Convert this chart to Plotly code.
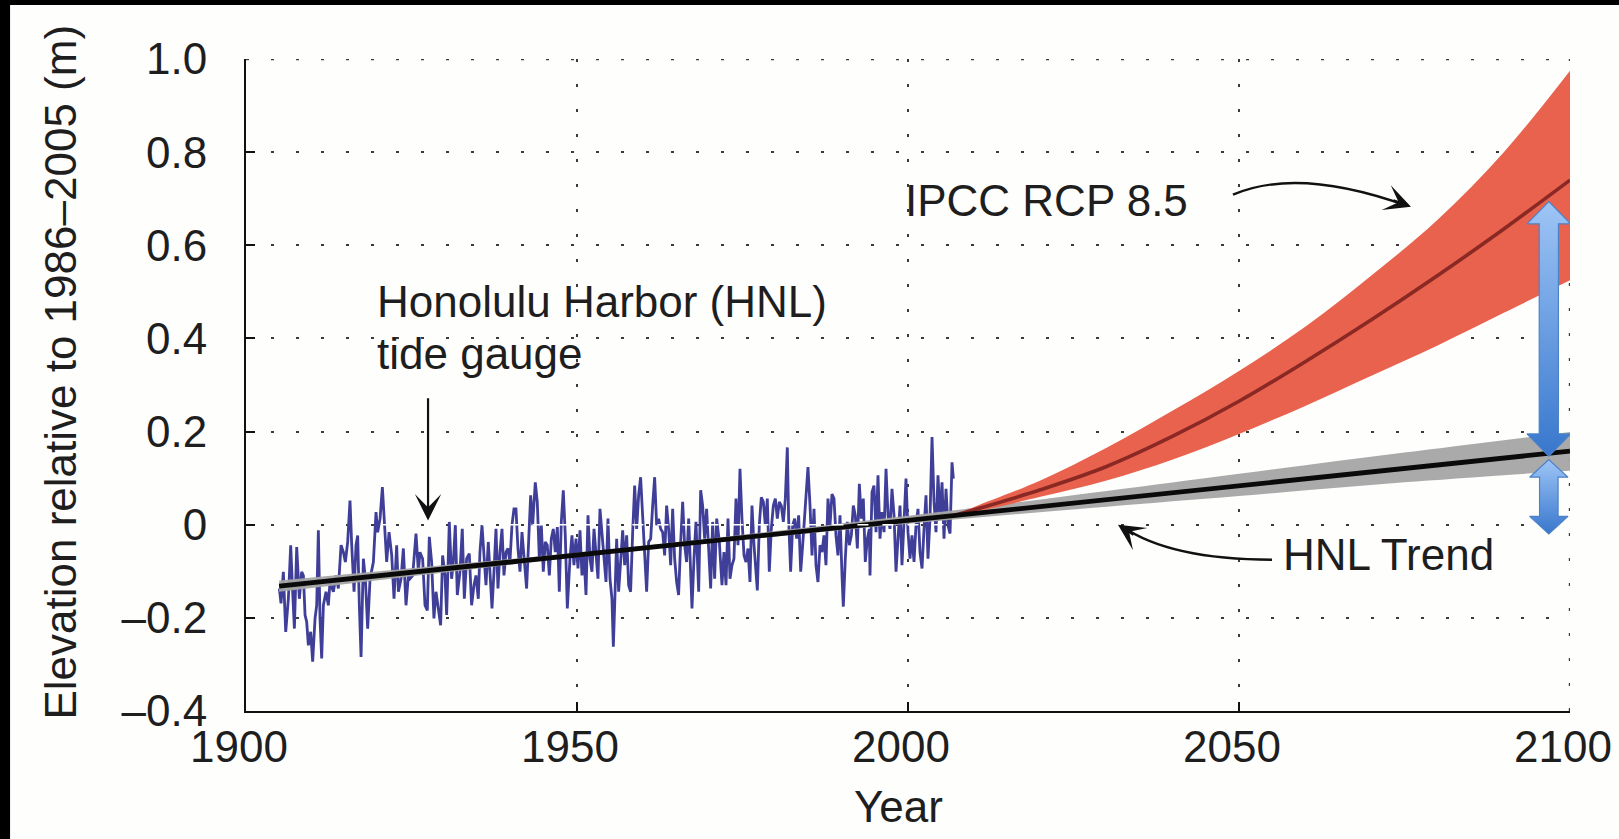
import plotly.graph_objects as go

# ---------------- data ----------------
gauge_year = [
 1905.04,1905.29,1905.64,1906.00,1906.40,1906.75,1907.05,1907.31,1907.66,1908.06,1908.41,1908.67,1908.92,1909.17,1909.42,1909.77,
 1910.07,1910.43,1910.68,1910.93,1911.18,1911.43,1911.69,1912.09,1912.44,1912.69,1913.20,1913.60,1913.95,1914.36,1914.71,1915.01,
 1915.36,1915.71,1915.97,1916.32,1916.62,1916.87,1917.12,1917.38,1917.73,1918.03,1918.38,1918.74,1919.24,1919.64,1919.89,1920.25,
 1920.60,1920.90,1921.25,1921.61,1922.01,1922.36,1922.76,1923.02,1923.42,1923.77,1924.17,1924.53,1924.78,1925.18,1925.68,1926.04,
 1926.28,1926.68,1927.04,1927.39,1927.69,1928.04,1928.39,1928.70,1929.05,1929.40,1929.70,1930.06,1930.31,1930.71,1931.06,1931.32,
 1931.62,1931.92,1932.32,1932.67,1932.98,1933.33,1933.73,1934.08,1934.44,1934.74,1935.09,1935.34,1935.65,1935.95,1936.25,1936.60,
 1936.85,1937.16,1937.46,1937.76,1938.06,1938.36,1938.67,1938.97,1939.27,1939.57,1939.87,1940.18,1940.48,1940.78,1941.08,1941.39,
 1941.69,1942.09,1942.39,1942.69,1943.00,1943.30,1943.70,1944.00,1944.31,1944.61,1944.91,1945.21,1945.51,1945.82,1946.12,1946.42,
 1946.72,1947.03,1947.33,1947.63,1947.93,1948.23,1948.54,1948.94,
 1949.24,1949.54,1949.85,1950.15,1950.45,1950.75,1951.05,1951.36,1951.66,1951.96,1952.26,1952.57,1952.87,1953.17,1953.47,1953.77,
 1954.08,1954.38,1954.68,1954.98,1955.28,1955.49,1955.69,1955.99,1956.29,1956.59,1956.90,1957.20,1957.50,1957.80,1958.10,1958.41,
 1958.71,1959.01,1959.31,1959.61,1959.92,1960.22,1960.52,1960.82,1961.13,1961.43,1961.73,1962.03,1962.33,1962.64,1962.94,1963.24,
 1963.54,1963.84,1964.15,1964.45,1964.75,1965.05,1965.35,1965.66,1965.96,1966.26,1966.56,1966.87,1967.17,1967.37,1967.67,1967.97,
 1968.38,1968.68,1968.98,1969.28,1969.58,1969.89,1970.19,1970.49,1970.79,1971.10,1971.50,
 1971.90,1972.20,1972.51,1972.81,1973.11,1973.41,1973.71,1974.02,1974.32,1974.62,1974.92,1975.23,1975.53,1975.83,1976.13,1976.43,
 1976.74,1977.04,1977.24,1977.54,1977.84,1978.15,1978.45,1978.75,1979.05,1979.35,1979.66,1979.96,1980.26,1980.56,1980.86,1981.17,
 1981.47,1981.77,1981.97,1982.27,1982.58,1982.88,1983.18,1983.48,1983.79,1984.09,1984.39,1984.69,1984.89,1985.20,1985.50,1985.80,
 1986.10,1986.40,1986.71,1987.01,1987.31,1987.61,1987.91,1988.22,1988.52,1988.82,1989.12,1989.42,1989.73,1990.03,1990.23,1990.53,
 1990.83,1991.14,1991.44,1991.74,1992.04,1992.35,1992.65,1992.95,1993.25,1993.55,1993.86,1994.16,
 1994.26,1994.56,1994.86,1995.17,1995.47,1995.77,1996.07,1996.38,1996.68,1996.98,1997.28,1997.58,1997.89,1998.19,1998.49,1998.79,
 1999.09,1999.40,1999.70,2000.00,2000.30,2000.60,2000.91,2001.21,2001.51,2001.81,2002.12,2002.42,2002.72,2003.02,2003.32,2003.63,
 2003.93,2004.23,2004.53,2004.83,2005.14,2005.44,2005.74,2006.04,2006.35,2006.65,2006.85,
]
gauge_elev = [
 -0.137,-0.169,-0.101,-0.230,-0.159,-0.044,-0.144,-0.223,-0.048,-0.159,-0.101,-0.109,-0.194,-0.209,-0.259,-0.230,
 -0.294,-0.201,-0.173,-0.012,-0.201,-0.287,-0.173,-0.144,-0.173,-0.123,-0.144,-0.109,-0.137,-0.044,-0.059,-0.080,
 -0.037,0.052,-0.044,-0.144,-0.044,-0.023,-0.173,-0.284,-0.073,-0.116,-0.223,-0.116,-0.080,0.027,-0.016,0.013,
 0.081,-0.001,-0.080,-0.016,-0.066,-0.159,-0.044,-0.144,-0.116,-0.051,-0.173,-0.109,-0.116,-0.109,-0.019,-0.101,
 -0.059,-0.073,-0.173,-0.184,-0.026,-0.080,-0.201,-0.144,-0.187,-0.216,-0.066,-0.109,-0.194,0.006,-0.116,-0.080,
 -0.001,-0.151,-0.101,-0.009,-0.159,-0.073,-0.062,-0.173,-0.130,-0.109,-0.159,-0.059,-0.001,-0.080,-0.130,-0.037,
 -0.101,-0.180,-0.101,-0.009,-0.137,-0.059,-0.009,-0.109,-0.059,-0.051,-0.080,-0.001,0.034,0.034,-0.051,-0.101,
 -0.016,-0.087,-0.137,-0.037,0.063,-0.001,0.091,0.049,-0.073,-0.001,-0.101,-0.037,-0.044,-0.109,-0.030,-0.009,
 -0.059,-0.005,-0.144,0.006,0.074,-0.023,-0.180,-0.073,
 -0.023,-0.087,-0.030,-0.094,-0.012,-0.109,-0.066,-0.151,0.020,-0.073,-0.101,-0.009,-0.059,-0.116,0.034,-0.016,
 -0.059,-0.123,0.013,-0.116,-0.159,-0.262,-0.173,-0.030,-0.144,-0.073,-0.012,-0.087,-0.023,-0.130,-0.144,-0.016,
 0.084,-0.009,0.063,0.102,0.013,-0.073,-0.144,-0.037,-0.030,0.041,0.102,-0.001,0.013,-0.009,-0.016,-0.066,
 0.041,-0.009,-0.087,0.034,-0.073,-0.123,-0.151,-0.037,0.049,-0.044,-0.080,0.013,-0.094,-0.180,-0.073,0.006,
 -0.144,0.074,0.041,-0.030,0.034,-0.044,-0.137,0.006,-0.116,0.013,-0.037,
 -0.130,-0.059,-0.130,0.013,-0.116,-0.087,-0.073,0.056,-0.044,0.120,0.013,-0.066,-0.080,-0.051,-0.123,0.041,
 -0.044,-0.094,-0.141,-0.001,0.059,0.049,-0.001,0.056,-0.101,-0.009,0.041,0.056,0.013,0.049,0.041,0.006,
 0.056,0.166,0.013,-0.101,-0.001,0.013,-0.030,0.020,-0.101,-0.044,0.013,0.084,0.124,0.041,-0.066,0.034,
 -0.087,-0.123,-0.044,-0.059,-0.023,-0.087,0.056,-0.001,0.066,0.056,-0.023,-0.066,0.020,-0.109,-0.176,-0.073,
 0.006,-0.044,-0.023,0.041,0.020,-0.051,0.088,0.013,0.056,-0.080,-0.030,-0.009,
 -0.109,0.070,0.084,-0.016,0.106,-0.030,0.027,-0.016,0.120,0.020,-0.009,0.077,0.020,-0.101,-0.030,0.041,
 -0.087,0.013,0.099,-0.016,-0.073,-0.023,-0.080,-0.001,0.034,-0.059,-0.094,-0.009,0.063,-0.073,0.013,0.188,
 0.049,-0.016,0.106,0.013,0.091,-0.030,0.077,-0.001,-0.019,0.134,0.099,
]

# HNL linear trend (historical fit extended to 2100) and its uncertainty band
trend_year = [1905, 2100]
trend_elev = [-0.132, 0.158]
band_year = [1905, 1930, 1955, 1980, 2007, 2030, 2050, 2075, 2100]
band_upper = [-0.120, -0.0865, -0.053, -0.0135, 0.031, 0.0725, 0.1095, 0.155, 0.199]
band_lower = [-0.144, -0.1025, -0.061, -0.0255, 0.011, 0.0385, 0.0615, 0.091, 0.116]

# IPCC RCP 8.5 projection
rcp_year = [2007, 2010, 2020, 2030, 2040, 2050, 2060, 2070, 2080, 2090, 2100]
rcp_median = [0.020, 0.032, 0.075, 0.125, 0.190, 0.265, 0.350, 0.440, 0.535, 0.635, 0.740]
rcp_upper = [0.020, 0.038, 0.095, 0.165, 0.245, 0.330, 0.425, 0.535, 0.655, 0.800, 0.975]
rcp_lower = [0.020, 0.027, 0.060, 0.095, 0.140, 0.195, 0.255, 0.320, 0.385, 0.455, 0.525]

y_ticks = [-0.4, -0.2, 0, 0.2, 0.4, 0.6, 0.8, 1.0]
y_ticktext = ["\u20130.4", "\u20130.2", "0", "0.2", "0.4", "0.6", "0.8", "1.0"]
x_ticks = [1900, 1950, 2000, 2050, 2100]
x_range = [1900, 2100]
y_range = [-0.4, 1.0]

# double-arrow markers at the right edge: (top, bottom) at arrow_year
arrow_year = 2096.8
big_arrow = (0.694, 0.147)
small_arrow = (0.140, -0.020)

FONT = "Liberation Sans, Arial, Helvetica, sans-serif"
TXT = "#1e1e1e"
FS = 44
GRID_COLOR = "#3a3a3a"
GRID_DASH = "3px,22px"
GRID_W = 2.4

fig = go.Figure()

# tide gauge record
fig.add_trace(go.Scatter(x=gauge_year, y=gauge_elev, mode="lines",
                         line=dict(color="#3f3e98", width=2.8), hoverinfo="skip"))

# gray trend band
fig.add_trace(go.Scatter(x=band_year, y=band_lower, mode="lines", line=dict(width=0, shape="spline"),
                         hoverinfo="skip"))
fig.add_trace(go.Scatter(x=band_year, y=band_upper, mode="lines", line=dict(width=0, shape="spline"),
                         fill="tonexty", fillcolor="rgba(165,165,165,0.95)", hoverinfo="skip"))

# red RCP band
fig.add_trace(go.Scatter(x=rcp_year, y=rcp_lower, mode="lines", line=dict(width=0, shape="spline"),
                         hoverinfo="skip"))
fig.add_trace(go.Scatter(x=rcp_year, y=rcp_upper, mode="lines", line=dict(width=0, shape="spline"),
                         fill="tonexty", fillcolor="#e9624e", hoverinfo="skip"))
fig.add_trace(go.Scatter(x=rcp_year, y=rcp_median, mode="lines",
                         line=dict(color="#8a2824", width=3.6, shape="spline"), hoverinfo="skip"))

# black trend line
fig.add_trace(go.Scatter(x=trend_year, y=trend_elev, mode="lines",
                         line=dict(color="#0a0a0a", width=4.8), hoverinfo="skip"))


def double_arrow(xc, top, bot, head_hw, shaft_hw, head_len):
    xs = [xc - head_hw, xc, xc + head_hw, xc + shaft_hw, xc + shaft_hw, xc + head_hw, xc,
          xc - head_hw, xc - shaft_hw, xc - shaft_hw, xc - head_hw]
    ys = [top - head_len, top, top - head_len, top - head_len, bot + head_len, bot + head_len, bot,
          bot + head_len, bot + head_len, top - head_len, top - head_len]
    return xs, ys


for (top, bot), hhw, shw, hl in [(big_arrow, 3.3, 1.45, 0.048), (small_arrow, 2.9, 1.4, 0.038)]:
    ax_, ay_ = double_arrow(arrow_year, top, bot, hhw, shw, hl)
    fig.add_trace(go.Scatter(
        x=ax_, y=ay_, mode="lines", fill="toself",
        line=dict(color="#4d82c6", width=1.2),
        fillgradient=dict(type="vertical", colorscale=[[0, "#3877cd"], [1, "#9ec5f6"]]),
        hoverinfo="skip"))

shapes = [
    # white page inside the black frame
    dict(type="rect", xref="paper", yref="paper", x0=-0.1782, x1=1.06, y0=-0.25, y1=1.0828,
         fillcolor="#fefefd", line=dict(width=0), layer="below"),
    # dotted gridlines at the far edges (plotly drops gridlines on the range ends)
    dict(type="line", xref="x", yref="y", x0=x_range[1], x1=x_range[1], y0=y_range[0], y1=y_range[1],
         line=dict(color=GRID_COLOR, width=GRID_W, dash=GRID_DASH), layer="below"),
    dict(type="line", xref="x", yref="y", x0=x_range[0], x1=x_range[1], y0=y_range[1], y1=y_range[1],
         line=dict(color=GRID_COLOR, width=GRID_W, dash=GRID_DASH), layer="below"),
    # white dashes of the zero gridline showing over the data
    dict(type="line", xref="x", yref="y", x0=1905.5, x1=2012, y0=0, y1=0,
         line=dict(color="white", width=1.6, dash="11px,14px"), layer="above"),
    # curved arrow for IPCC label
    dict(type="path", xref="x", yref="y",
         path="M 2049.09,0.7086 Q 2058.91,0.7687 2075.4,0.6845",
         line=dict(color="#111", width=2.4)),
    # curved arrow for HNL Trend label
    dict(type="path", xref="x", yref="y",
         path="M 2054.98,-0.0752 Q 2039.58,-0.0752 2032.3,-0.0035",
         line=dict(color="#111", width=2.4)),
]

annotations = [
    dict(text="Elevation relative to 1986\u20132005 (m)", xref="paper", yref="paper",
         x=-0.140, y=0.520, textangle=-90, showarrow=False, xanchor="center", yanchor="middle",
         font=dict(size=FS, color=TXT, family=FONT)),
    dict(text="Year", xref="paper", yref="paper", x=0.493, y=-0.146, showarrow=False,
         xanchor="center", yanchor="middle", font=dict(size=FS, color=TXT, family=FONT)),
    dict(text="IPCC RCP 8.5", x=1999.2, y=0.696, xref="x", yref="y", showarrow=False,
         xanchor="left", yanchor="middle", font=dict(size=FS, color=TXT, family=FONT)),
    dict(text="Honolulu Harbor (HNL)", x=1919.5, y=0.480, xref="x", yref="y", showarrow=False,
         xanchor="left", yanchor="middle", font=dict(size=FS, color=TXT, family=FONT)),
    dict(text="tide gauge", x=1919.5, y=0.367, xref="x", yref="y", showarrow=False,
         xanchor="left", yanchor="middle", font=dict(size=FS, color=TXT, family=FONT)),
    dict(text="HNL Trend", x=2056.3, y=-0.065, xref="x", yref="y", showarrow=False,
         xanchor="left", yanchor="middle", font=dict(size=FS, color=TXT, family=FONT)),
    # tide-gauge pointer
    dict(text="", x=1927.5, y=0.009, xref="x", yref="y", axref="x", ayref="y",
         ax=1927.5, ay=0.275, showarrow=True, arrowhead=3, arrowsize=2.0, arrowwidth=2.2,
         arrowcolor="#111", standoff=0),
    # arrowheads for the curved pointers
    dict(text="", x=2075.98, y=0.6828, xref="x", yref="y", ax=-19, ay=-7,
         showarrow=True, arrowhead=3, arrowsize=2.0, arrowwidth=2.2, arrowcolor="#111", standoff=0),
    dict(text="", x=2031.72, y=0.0, xref="x", yref="y", ax=17, ay=11,
         showarrow=True, arrowhead=3, arrowsize=2.0, arrowwidth=2.2, arrowcolor="#111", standoff=0),
]

grid_common = dict(showgrid=True, gridcolor=GRID_COLOR, gridwidth=GRID_W, griddash=GRID_DASH,
                   zeroline=False, showline=True, linecolor="#111", linewidth=2,
                   ticks="inside", ticklen=9, tickwidth=2, tickcolor="#111", automargin=False,
                   tickfont=dict(size=FS, color=TXT, family=FONT))

fig.update_layout(
    width=1619, height=839,
    margin=dict(l=246, r=49, t=59, b=128, autoexpand=False),
    paper_bgcolor="black", plot_bgcolor="#fefefd",
    showlegend=False,
    shapes=shapes, annotations=annotations,
    xaxis=dict(range=x_range, tickvals=x_ticks, ticktext=[str(v) for v in x_ticks],
               ticklabelstandoff=-4, ticklabelshift=-7, **grid_common),
    yaxis=dict(range=y_range, tickvals=y_ticks, ticktext=y_ticktext,
               ticklabelstandoff=28, **grid_common),
)

fig.write_html("out.html")
